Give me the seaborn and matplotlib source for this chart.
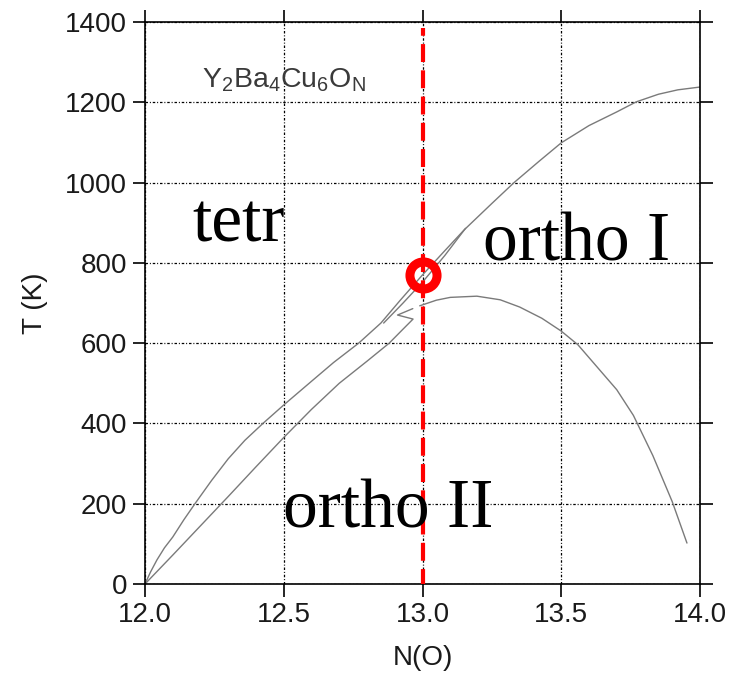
import matplotlib
matplotlib.use("Agg")
import matplotlib.pyplot as plt
import seaborn as sns
import numpy as np
import pandas as pd

# ---- data ----
upper_N = [12.0, 12.02, 12.043, 12.07, 12.10, 12.14, 12.18, 12.24, 12.30, 12.36, 12.425, 12.5,
           12.6, 12.68, 12.77, 12.85, 12.92, 13.0, 13.08, 13.15, 13.25, 13.33, 13.42, 13.5,
           13.6, 13.7, 13.77, 13.85, 13.92, 14.0]
upper_T = [0, 30, 60, 90, 117, 160, 200, 258, 312, 358, 400, 446,
           505, 552, 600, 650, 707, 770, 830, 882, 948, 1000, 1053, 1099,
           1142, 1176, 1201, 1220, 1231, 1238]

branch_N = [12.86, 12.93, 13.0, 13.08, 13.155]
branch_T = [650, 700, 752, 818, 886]

lower_N = [12.0, 12.1, 12.2, 12.3, 12.4, 12.5, 12.6, 12.7, 12.8, 12.88, 12.93, 12.966,
           12.91, 12.965]
lower_T = [0, 72, 145, 218, 292, 365, 435, 500, 555, 600, 635, 660,
           670, 686]

dome_N = [12.99, 13.05, 13.1, 13.196, 13.28, 13.35, 13.43, 13.5, 13.56, 13.64, 13.7, 13.76,
          13.83, 13.9, 13.953]
dome_T = [693, 707, 714, 717, 708, 690, 662, 630, 596, 532, 484, 420,
          320, 205, 102]

marker_N = 13.0
marker_T = 770
vline_T = [-8, 1385]

x_ticks = [12.0, 12.5, 13.0, 13.5, 14.0]
x_ticklabels = ["12.0", "12.5", "13.0", "13.5", "14.0"]
y_ticks = [0, 200, 400, 600, 800, 1000, 1200, 1400]

region_labels = ["tetr", "ortho I", "ortho II"]
region_N = [12.17, 13.218, 12.497]
region_T = [852, 805, 140]

# ---- plotting ----
sns.set_theme(style="white")
plt.rcParams['font.family'] = ['Liberation Sans', 'DejaVu Sans']
plt.rcParams['mathtext.fontset'] = 'custom'
plt.rcParams['mathtext.rm'] = 'Liberation Sans'
plt.rcParams['mathtext.it'] = 'Liberation Sans'

fig = plt.figure(figsize=(7.38, 6.74), dpi=100)
ax = fig.add_axes([145/738, 1-584/674, (700-145)/738, (584-22)/674])
ax.set_facecolor("white")

line_color = "#7a7a7a"
for n, t in [(upper_N, upper_T), (branch_N, branch_T), (lower_N, lower_T), (dome_N, dome_T)]:
    df = pd.DataFrame({"N": n, "T": t})
    sns.lineplot(data=df, x="N", y="T", sort=False, estimator=None,
                 color=line_color, lw=1.0, ax=ax)

# red dashed line and circle
ax.plot([marker_N, marker_N], vline_T, color="#ff0000", lw=3.0,
        dashes=(4.3, 2.0), zorder=5, dash_capstyle='butt')
ax.plot([marker_N], [marker_T], marker='o', ms=19.5, mfc='none', mec='#ff0000',
        mew=6.5, zorder=6)

ax.set_xlim(12.0, 14.0)
ax.set_ylim(0, 1400)
ax.set_xticks(x_ticks)
ax.set_xticklabels(x_ticklabels)
ax.set_yticks(y_ticks)

ax.grid(True, color="black", lw=0.9, linestyle=(0, (2.0, 1.5, 0.8, 1.5)))
ax.set_axisbelow(True)

for s in ax.spines.values():
    s.set_visible(True)
    s.set_color("black")
    s.set_linewidth(1.2)

ax.tick_params(axis='both', which='both', direction='out', length=9, width=1.2,
               color='black', labelsize=20, labelcolor='#1a1a1a',
               top=True, right=True, bottom=True, left=True,
               labeltop=False, labelright=False, pad=4)

ax.set_xlabel("N(O)", fontsize=20, color='#1a1a1a', labelpad=12)
ax.set_ylabel("T (K)", fontsize=20, color='#1a1a1a', labelpad=12)

ax.text(12.205, 1236, r"$\mathrm{Y_2Ba_4Cu_6O_N}$", fontsize=20.5, color='#3a3a3a',
        ha='left', va='baseline')

for lab, n, t in zip(region_labels, region_N, region_T):
    ax.text(n, t, lab, fontsize=50, family=['Liberation Serif', 'DejaVu Serif'],
            color='black', ha='left', va='baseline', zorder=7)

fig.savefig("out.png", dpi=100)
